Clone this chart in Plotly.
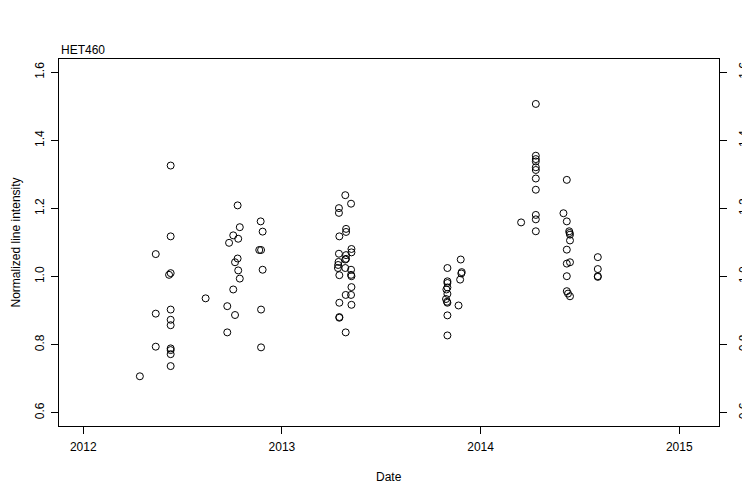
import plotly.graph_objects as go

# Observation dates (decimal years) and normalized line intensity
obs_date = [
    2012.285,
    2012.365, 2012.365, 2012.365,
    2012.440, 2012.440, 2012.440, 2012.432, 2012.440, 2012.440, 2012.440, 2012.440, 2012.440, 2012.440, 2012.440,
    2012.616,
    2012.725, 2012.725, 2012.734, 2012.755, 2012.755, 2012.764, 2012.764, 2012.777, 2012.777, 2012.780, 2012.780, 2012.788, 2012.788,
    2012.893, 2012.886, 2012.895, 2012.895, 2012.895, 2012.903, 2012.903,
    2013.287, 2013.287, 2013.289, 2013.287, 2013.285, 2013.283, 2013.282, 2013.289, 2013.289, 2013.289, 2013.289,
    2013.319, 2013.323, 2013.323, 2013.323, 2013.323, 2013.319, 2013.319, 2013.321, 2013.321,
    2013.348, 2013.350, 2013.350, 2013.348, 2013.348, 2013.350, 2013.350, 2013.348, 2013.350,
    2013.833, 2013.833, 2013.833, 2013.833, 2013.828, 2013.833, 2013.826, 2013.831, 2013.833, 2013.833, 2013.833,
    2013.900, 2013.905, 2013.903, 2013.897, 2013.889,
    2014.204,
    2014.278, 2014.278, 2014.278, 2014.278, 2014.278, 2014.278, 2014.278, 2014.278, 2014.278, 2014.278, 2014.278,
    2014.417,
    2014.434, 2014.434, 2014.434, 2014.434, 2014.434, 2014.434, 2014.440,
    2014.446, 2014.448, 2014.450, 2014.450, 2014.450, 2014.450,
    2014.590, 2014.590, 2014.590, 2014.590,
]
norm_intensity = [
    0.707,
    1.066, 0.891, 0.794,
    1.326, 1.118, 1.010, 1.005, 0.903, 0.873, 0.857, 0.789, 0.784, 0.772, 0.737,
    0.936,
    0.913, 0.836, 1.099, 1.121, 0.962, 1.042, 0.887, 1.209, 1.053, 1.111, 1.018, 1.145, 0.994,
    1.162, 1.078, 1.078, 0.903, 0.792, 1.132, 1.020,
    1.201, 1.187, 1.118, 1.067, 1.043, 1.034, 1.025, 1.004, 0.923, 0.881, 0.879,
    1.239, 1.140, 1.131, 1.063, 1.052, 1.050, 1.025, 0.946, 0.836,
    1.214, 1.081, 1.071, 1.020, 1.005, 1.001, 0.969, 0.946, 0.917,
    1.025, 0.986, 0.981, 0.968, 0.962, 0.949, 0.934, 0.926, 0.923, 0.886, 0.827,
    1.050, 1.013, 1.009, 0.991, 0.915,
    1.159,
    1.507, 1.355, 1.345, 1.338, 1.321, 1.313, 1.288, 1.255, 1.181, 1.168, 1.133,
    1.186,
    1.284, 1.162, 1.079, 1.038, 1.001, 0.957, 0.950,
    1.133, 1.128, 1.123, 1.106, 1.042, 0.942,
    1.057, 1.022, 1.001, 0.999,
]

x_ticks = [2012, 2013, 2014, 2015]
x_labels = ["2012", "2013", "2014", "2015"]
y_ticks = [0.6, 0.8, 1.0, 1.2, 1.4, 1.6]
y_labels = ["0.6", "0.8", "1.0", "1.2", "1.4", "1.6"]

FONT = "Liberation Sans, Arial, Helvetica, sans-serif"
marker = dict(symbol="circle-open", size=7, color="black", line=dict(width=1, color="black"))

fig = go.Figure()
fig.add_trace(go.Scatter(x=obs_date, y=norm_intensity, mode="markers", marker=marker,
                         showlegend=False, hoverinfo="x+y"))
# invisible copy to activate right-hand axis
fig.add_trace(go.Scatter(x=obs_date, y=norm_intensity, mode="markers", yaxis="y2",
                         marker=dict(size=1, opacity=0), showlegend=False, hoverinfo="skip"))

# the page body adds an 8px offset, so the figure is sized 742x492
y_range = [0.561, 1.639]
fig.update_layout(
    width=742, height=492,
    paper_bgcolor="white", plot_bgcolor="white",
    margin=dict(l=51, r=31, t=51, b=74, autoexpand=False),
    font=dict(family=FONT, size=12, color="black"),
    xaxis=dict(range=[2011.878, 2015.2], tickvals=x_ticks, ticktext=x_labels,
               ticks="outside", ticklen=7, tickcolor="black", showline=True, linecolor="black",
               linewidth=1, mirror=True, showgrid=False, zeroline=False, automargin=False,
               ticklabelstandoff=3),
    yaxis=dict(range=y_range, tickvals=y_ticks, ticktext=y_labels, tickangle=-90,
               ticks="outside", ticklen=7, tickcolor="black", showline=True, linecolor="black",
               linewidth=1, mirror=True, showgrid=False, zeroline=False, automargin=False,
               ticklabelstandoff=2),
    yaxis2=dict(range=y_range, tickvals=y_ticks, ticktext=y_labels, tickangle=-90,
                overlaying="y", side="right", ticks="outside", ticklen=7, tickcolor="black",
                showline=False, showgrid=False, zeroline=False, automargin=False,
                ticklabelstandoff=7),
    annotations=[
        dict(text="HET460", xref="paper", yref="paper", x=0, y=1, xanchor="left",
             yanchor="bottom", showarrow=False, font=dict(size=12), yshift=0),
        dict(text="Date", xref="paper", yref="paper", x=0.5, y=0, xanchor="center",
             yanchor="middle", showarrow=False, font=dict(size=12), yshift=-51),
        dict(text="Normalized line intensity", xref="paper", yref="paper", x=0, y=0.5,
             xanchor="center", yanchor="middle", textangle=-90, showarrow=False,
             font=dict(size=12), xshift=-44),
    ],
)

fig.write_html("out.html")
